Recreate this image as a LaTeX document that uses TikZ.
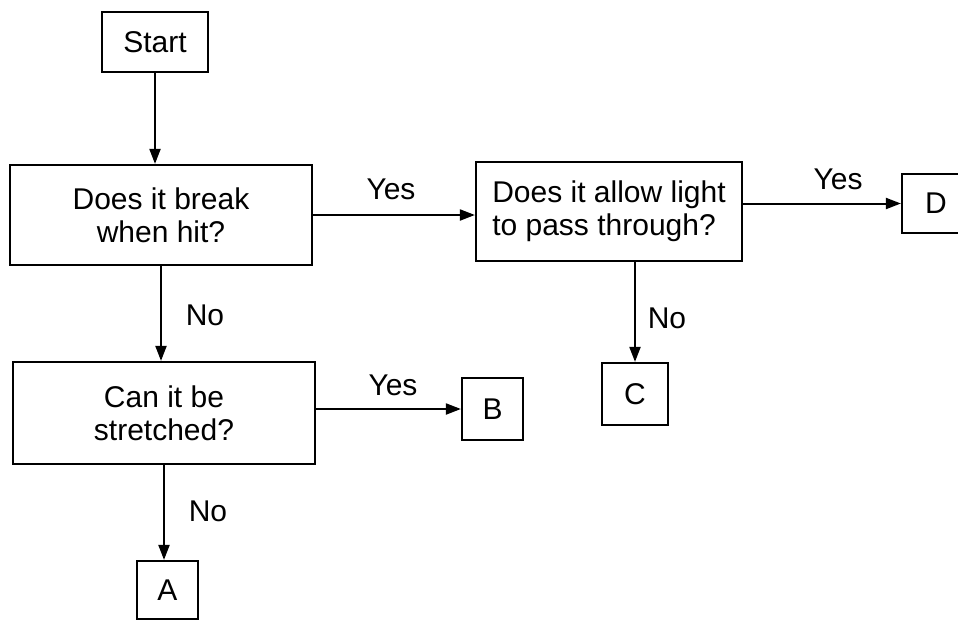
\documentclass[tikz,border=0pt]{standalone}
\usepackage{fontspec}
\setmainfont{Liberation Sans}
\usetikzlibrary{arrows.meta,calc}
\begin{document}
\begin{tikzpicture}[x=1pt,y=-1pt,
  every node/.style={font=\fontsize{30}{33}\selectfont, inner sep=0pt},
  box/.style={draw, line width=2.2pt, rectangle},
  conn/.style={line width=2pt, -{Triangle[length=15pt,width=11pt]}},
  lbl/.style={}]
\useasboundingbox (0,0) rectangle (958,621);
\fill[white] (0,0) rectangle (958,621);
\node[box, minimum width=106pt, minimum height=60pt] (start) at (155,42) {Start};
\node[box, minimum width=302pt, minimum height=100pt, align=center] (q1) at (161,215) {Does it break\\when hit?};
\node[box, minimum width=266pt, minimum height=99pt, align=left] (q2) at (609,211.5) {Does it allow light\\to pass through?};
\node[box, minimum width=68pt, minimum height=59pt] (d) at (936,203.5) {D};
\node[box, minimum width=302pt, minimum height=102pt, align=center] (q3) at (164,413) {Can it be\\stretched?};
\node[box, minimum width=61pt, minimum height=62pt] (b) at (492.5,409) {B};
\node[box, minimum width=66pt, minimum height=62pt] (c) at (635,394) {C};
\node[box, minimum width=61pt, minimum height=58pt] (a) at (167.5,590) {A};
\draw[conn] (start.south) -- (start.south |- q1.north);
\draw[conn] (q1.east) -- (q1.east -| q2.west);
\draw[conn] (d.west -| q2.east) -- (d.west);
\draw[conn] (q2.south -| c.north) -- (c.north);
\draw[conn] (q1.south) -- (q1.south |- q3.north);
\draw[conn] (b.west -| q3.east) -- (b.west);
\draw[conn] (q3.south) -- (q3.south |- a.north);
\node[lbl] (y1) at (391,189) {Yes};
\node[lbl] (y2) at (838,179) {Yes};
\node[lbl] (y3) at (393,385) {Yes};
\node[lbl] (n1) at (205,315) {No};
\node[lbl] (n2) at (208,511) {No};
\node[lbl] (n3) at (667,318) {No};
\end{tikzpicture}
\end{document}
